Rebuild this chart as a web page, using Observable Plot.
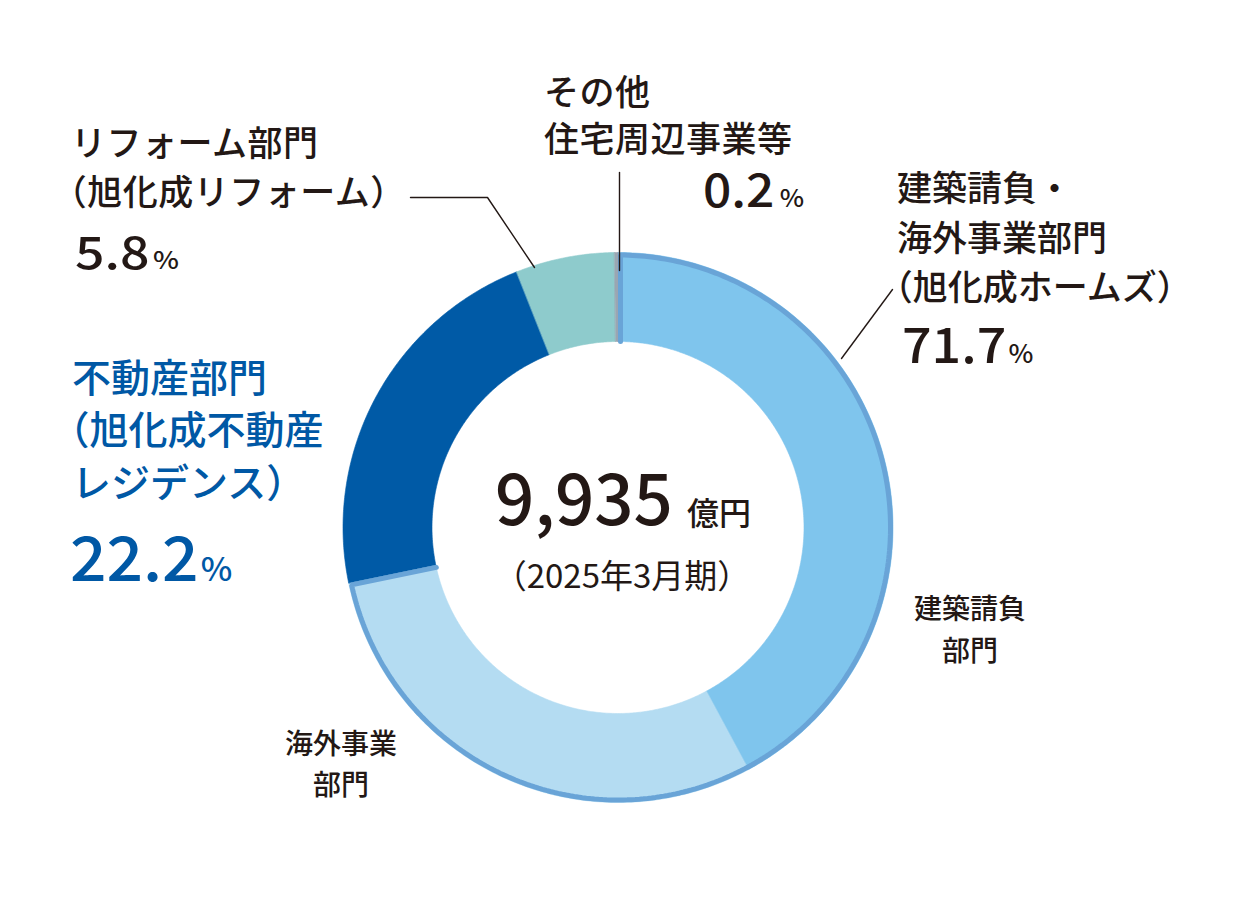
<!DOCTYPE html>
<html><head><meta charset="utf-8">
<script src="https://cdn.jsdelivr.net/npm/d3@7"></script>
<script src="https://cdn.jsdelivr.net/npm/@observablehq/plot@0.6"></script>
<style>
body{margin:0;background:#fff;}
#wrap{position:relative;width:1243px;height:902px;overflow:hidden;font-family:"Noto Sans CJK JP","Noto Sans",sans-serif;color:#231815;}
#wrap svg{position:absolute;left:0;top:0;}
.lab{position:absolute;white-space:nowrap;font-weight:500;}
.num{position:absolute;white-space:nowrap;line-height:0.8;font-weight:500;transform-origin:0 50%;}
.op{margin-left:-0.55em;}
.blue{color:#0058a5;}
</style></head>
<body><div id="wrap"></div>
<script>
// ---- data ----
const segments = ["建築請負部門", "海外事業部門", "不動産部門", "リフォーム部門", "その他住宅周辺事業等"];
const shares = [42.1, 29.6, 22.2, 5.8, 0.2];
const colors = ["#7fc5ed", "#b4dcf2", "#005aa6", "#8ecbcc", "#9aa6b2"];
const groupShare = 71.7;            // 建築請負・海外事業部門（旭化成ホームズ）
const total = "9,935";
const totalUnit = "億円";
const period = "（2025年3月期）";

// ---- layout ----
const W = 1243, H = 902, cx = 617.5, cy = 527, R = 275, r0 = 186, sw = 5;
const P = (a, r) => [cx + r * Math.sin(a), cy - r * Math.cos(a)];

const arcs = d3.pie().sort(null).value(d => d.v)(segments.map((s, i) => ({name: s, v: shares[i]})));
const pts = [];
for (const a of arcs) {
  const n = Math.max(2, Math.ceil((a.endAngle - a.startAngle) / (Math.PI / 360)));
  for (let i = 0; i <= n; i++) { const t = a.startAngle + (a.endAngle - a.startAngle) * i / n; const [x, y] = P(t, R); pts.push({name: a.data.name, x, y}); }
  for (let i = n; i >= 0; i--) { const t = a.startAngle + (a.endAngle - a.startAngle) * i / n; const [x, y] = P(t, r0); pts.push({name: a.data.name, x, y}); }
}

// outline of the 旭化成ホームズ group (first two segments)
const aEnd = arcs[1].endAngle, aStart = arcs[0].startAngle, h = sw / 2, Ri = R - h, d = h / Ri;
const outline = [];
{
  const [ix, iy] = P(aEnd, r0);
  outline.push({x: ix - h * Math.cos(aEnd), y: iy - h * Math.sin(aEnd)});
  const n = 300;
  for (let i = 0; i <= n; i++) { const t = (aEnd - d) + ((aStart + d) - (aEnd - d)) * i / n; const [x, y] = P(t, Ri); outline.push({x, y}); }
  const [jx, jy] = P(aStart, r0);
  outline.push({x: jx + h * Math.cos(aStart), y: jy + h * Math.sin(aStart)});
}

const leaders = [
  {id: "reform", x: 410, y: 197}, {id: "reform", x: 487, y: 197}, {id: "reform", x: 534, y: 267},
  {id: "other", x: 619, y: 172}, {id: "other", x: 619, y: 270},
  {id: "homes", x: 892, y: 289}, {id: "homes", x: 841, y: 358}
];

const chart = Plot.plot({
  width: W, height: H, margin: 0,
  x: {domain: [0, W], range: [0, W], axis: null},
  y: {domain: [0, H], range: [0, H], axis: null},
  color: {domain: segments, range: colors},
  marks: [
    Plot.line(pts, {x: "x", y: "y", z: "name", fill: "name", stroke: "name", strokeWidth: 0.6, curve: "linear-closed"}),
    Plot.line(outline, {x: "x", y: "y", stroke: "#69a4d7", strokeWidth: sw, strokeLinejoin: "miter"}),
    Plot.line(leaders, {x: "x", y: "y", z: "id", stroke: "#231815", strokeWidth: 1.4})
  ]
});
const wrap = document.getElementById("wrap");
wrap.appendChild(chart);

const pct = (fs, ml) => `<span style='font-size:${fs}px;margin-left:${ml}px'>%</span>`;
const labels = [
  {html: "リフォーム部門<br><span class='op'>（</span>旭化成リフォーム）", cls: "lab", style: "left:71px;top:116px;font-size:35px;line-height:49px;letter-spacing:0.5px;"},
  {html: `${shares[3]}${pct(24, 3)}`, cls: "num", style: "left:75px;top:232px;font-size:45px;transform:scaleX(1.15);"},
  {html: "その他<br>住宅周辺事業等", cls: "lab", style: "left:544px;top:66px;font-size:35px;line-height:47px;letter-spacing:0.5px;"},
  {html: `${shares[4]}${pct(24, 5)}`, cls: "num", style: "left:703px;top:168.5px;font-size:46px;transform:scaleX(1.08);"},
  {html: "建築請負・<br>海外事業部門<br><span class='op'>（</span>旭化成ホームズ）", cls: "lab", style: "left:897px;top:161px;font-size:35px;line-height:49.5px;"},
  {html: `${groupShare}${pct(25, 2)}`, cls: "num", style: "left:902px;top:322px;font-size:49px;transform:scaleX(1.06);"},
  {html: "不動産部門<br><span class='op'>（</span>旭化成不動産<br>レジデンス）", cls: "lab blue", style: "left:72px;top:348.5px;font-size:39px;line-height:52.5px;"},
  {html: `${shares[2]}${pct(32, 2)}`, cls: "num blue", style: "left:70px;top:531px;font-size:61px;transform:scaleX(1.05);"},
  {html: "建築請負<br>部門", cls: "lab", style: "left:970px;top:586px;font-size:28px;line-height:42px;text-align:center;transform:translateX(-50%);"},
  {html: "海外事業<br>部門", cls: "lab", style: "left:341px;top:722px;font-size:28px;line-height:41px;text-align:center;transform:translateX(-50%);"},
  {html: `${total}<span style='font-size:32px;margin-left:14px'>${totalUnit}</span>`, cls: "num", style: "left:623px;top:468px;font-size:69px;transform:translateX(-50%);"},
  {html: period, cls: "num", style: "left:622px;top:561px;font-size:33px;font-weight:400;transform:translateX(-50%);"}
];
for (const l of labels) {
  const el = document.createElement("div");
  el.className = l.cls; el.style.cssText = l.style; el.innerHTML = l.html;
  wrap.appendChild(el);
}
</script>
</body></html>
